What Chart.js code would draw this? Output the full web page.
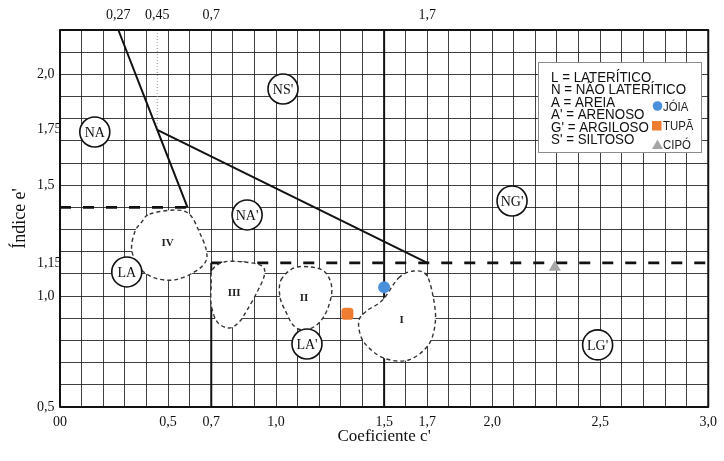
<!DOCTYPE html>
<html>
<head>
<meta charset="utf-8">
<script src="https://cdn.jsdelivr.net/npm/chart.js@4.4.1/dist/chart.umd.min.js"></script>
<style>
html,body{margin:0;padding:0;background:#fff;}
#wrap{width:724px;height:461px;position:relative;}
</style>
</head>
<body>
<div id="wrap"><canvas id="c" width="724" height="461"></canvas></div>
<script>
// ---------- axis ticks ----------
const xTickValues = [0, 0.5, 0.7, 1.0, 1.5, 1.7, 2.0, 2.5, 3.0];
const xTickLabels = ['00', '0,5', '0,7', '1,0', '1,5', '1,7', '2,0', '2,5', '3,0'];
const topTickValues = [0.27, 0.45, 0.7, 1.7];
const topTickLabels = ['0,27', '0,45', '0,7', '1,7'];
const yTickValues = [0.5, 1.0, 1.15, 1.5, 1.75, 2.0];
const yTickLabels = ['0,5', '1,0', '1,15', '1,5', '1,75', '2,0'];
const xRange = [0, 3.0];
const yRange = [0.5, 2.2];
const gridStep = 0.1;

// ---------- classification boundaries ----------
const lineSteep = [[0.27, 2.2], [0.45, 1.75], [0.59, 1.40]];
const lineSlope = [[0.45, 1.75], [1.7, 1.15]];
const lineV07 = [[0.7, 1.15], [0.7, 0.5]];
const lineV15 = [[1.5, 2.2], [1.5, 0.5]];
const dashLeft = [[0, 1.40], [0.59, 1.40]];
const dashRight = [[0.7, 1.15], [3.0, 1.15]];
const dotV045 = [[0.45, 2.2], [0.45, 1.75]];

// ---------- zones (dashed outlines) ----------
const zoneIV = [[0.415,1.370],[0.530,1.388],[0.599,1.370],[0.645,1.289],[0.677,1.208],[0.673,1.154],[0.622,1.109],[0.530,1.073],[0.438,1.082],[0.369,1.127],[0.332,1.208],[0.346,1.289],[0.378,1.334]];
const zoneIII = [[0.705,1.118],[0.760,1.154],[0.853,1.154],[0.935,1.136],[0.945,1.091],[0.912,1.018],[0.866,0.937],[0.829,0.883],[0.783,0.856],[0.728,0.883],[0.700,0.960],[0.700,1.050]];
const zoneII = [[1.023,1.073],[1.083,1.127],[1.161,1.131],[1.226,1.109],[1.258,1.037],[1.240,0.946],[1.198,0.879],[1.138,0.847],[1.083,0.865],[1.046,0.928],[1.018,0.996]];
const zoneI = [[1.567,1.082],[1.636,1.113],[1.696,1.095],[1.728,0.991],[1.737,0.883],[1.705,0.780],[1.613,0.712],[1.498,0.721],[1.406,0.793],[1.382,0.883],[1.419,0.933],[1.493,0.982]];
const zoneNames = ['IV', 'III', 'II', 'I'];
const zoneLabelPos = [[0.498,1.239],[0.806,1.014],[1.129,0.991],[1.581,0.892]];

// ---------- circled group labels ----------
const groupNames = ['NA', "NS'", "NA'", 'LA', "LA'", "NG'", "LG'"];
const groupPos = [[0.161,1.740],[1.032,1.934],[0.866,1.366],[0.309,1.109],[1.143,0.784],[2.092,1.429],[2.488,0.780]];

// ---------- samples ----------
const joiaPoint = [{x: 1.50, y: 1.04}];
const tupaPoint = [{x: 1.33, y: 0.92}];
const cipoPoint = [{x: 2.29, y: 1.13}];

const legendLines = ['L = LATERÍTICO', 'N = NÃO LATERÍTICO', 'A = AREIA', "A' = ARENOSO", "G' = ARGILOSO", "S' = SILTOSO"];
const sampleNames = ['JÓIA', 'TUPÃ', 'CIPÓ'];

const COL_JOIA = '#4A8FDB', COL_TUPA = '#EE7D31', COL_CIPO = '#A6A6A6';
const SERIF = "'Liberation Serif', 'Times New Roman', serif";
const SANS = "'Liberation Sans', Arial, sans-serif";

function gridVals(a, b) {
  const out = [];
  for (let i = Math.round(a / gridStep); i <= Math.round(b / gridStep); i++) out.push(+(i * gridStep).toFixed(2));
  return out;
}
function mergeTicks(grid, extra) {
  const s = new Set(grid.map(v => v.toFixed(2)));
  extra.forEach(v => s.add(v.toFixed(2)));
  return Array.from(s).map(Number).sort((a, b) => a - b);
}
function isGridVal(v) { return Math.abs(v / gridStep - Math.round(v / gridStep)) < 1e-6; }
function labelFor(vals, labels, v) {
  const i = vals.findIndex(t => Math.abs(t - v) < 1e-6);
  return i >= 0 ? labels[i] : '';
}
const gridColor = (ctx) => (ctx.tick && isGridVal(ctx.tick.value)) ? 'rgba(30,30,30,0.85)' : 'rgba(0,0,0,0)';

function polyline(ctx, xs, ys, pts) {
  ctx.beginPath();
  pts.forEach((p, i) => {
    const px = xs.getPixelForValue(p[0]), py = ys.getPixelForValue(p[1]);
    if (i === 0) ctx.moveTo(px, py); else ctx.lineTo(px, py);
  });
  ctx.stroke();
}
function closedSpline(ctx, pts) {
  const n = pts.length, t = 1 / 6;
  ctx.beginPath();
  ctx.moveTo(pts[0][0], pts[0][1]);
  for (let i = 0; i < n; i++) {
    const p0 = pts[(i - 1 + n) % n], p1 = pts[i], p2 = pts[(i + 1) % n], p3 = pts[(i + 2) % n];
    ctx.bezierCurveTo(p1[0] + (p2[0] - p0[0]) * t, p1[1] + (p2[1] - p0[1]) * t,
                      p2[0] - (p3[0] - p1[0]) * t, p2[1] - (p3[1] - p1[1]) * t, p2[0], p2[1]);
  }
  ctx.closePath();
}

const mctPlugin = {
  id: 'mct',
  beforeDatasetsDraw(chart) {
    const {ctx, chartArea: a} = chart;
    const xs = chart.scales.x, ys = chart.scales.y;
    ctx.save();
    // dotted guide
    ctx.strokeStyle = '#9a9a9a'; ctx.lineWidth = 1; ctx.setLineDash([1, 2]);
    polyline(ctx, xs, ys, dotV045);
    // solid boundaries
    ctx.setLineDash([]); ctx.strokeStyle = '#111'; ctx.lineWidth = 2; ctx.lineJoin = 'round';
    [lineSteep, lineSlope, lineV07, lineV15].forEach(l => polyline(ctx, xs, ys, l));
    // dashed boundaries
    ctx.setLineDash([11, 12]); ctx.lineWidth = 2.6;
    [dashLeft, dashRight].forEach(l => polyline(ctx, xs, ys, l));
    // zones
    [zoneIV, zoneIII, zoneII, zoneI].forEach(z => {
      const pts = z.map(p => [xs.getPixelForValue(p[0]), ys.getPixelForValue(p[1])]);
      closedSpline(ctx, pts);
      ctx.setLineDash([]); ctx.fillStyle = '#fff'; ctx.fill();
      ctx.setLineDash([4, 3]); ctx.lineWidth = 1.4; ctx.strokeStyle = '#333'; ctx.stroke();
    });
    ctx.setLineDash([]);
    // frame
    ctx.strokeStyle = '#111'; ctx.lineWidth = 2;
    ctx.strokeRect(a.left, a.top, a.right - a.left, a.bottom - a.top);
    // zone numerals
    ctx.fillStyle = '#222'; ctx.font = 'bold 11px ' + SERIF; ctx.textAlign = 'center'; ctx.textBaseline = 'middle';
    zoneNames.forEach((n, i) => ctx.fillText(n, xs.getPixelForValue(zoneLabelPos[i][0]), ys.getPixelForValue(zoneLabelPos[i][1])));
    // circled group labels
    groupNames.forEach((n, i) => {
      const px = xs.getPixelForValue(groupPos[i][0]), py = ys.getPixelForValue(groupPos[i][1]);
      ctx.beginPath(); ctx.arc(px, py, 15, 0, Math.PI * 2);
      ctx.fillStyle = '#fff'; ctx.fill();
      ctx.lineWidth = 1.6; ctx.strokeStyle = '#111'; ctx.stroke();
      ctx.fillStyle = '#111'; ctx.font = '14px ' + SERIF;
      ctx.fillText(n, px, py + 1);
    });
    ctx.restore();
  },
  afterDatasetsDraw(chart) {
    const {ctx} = chart;
    ctx.save();
    // legend box
    ctx.fillStyle = '#fff'; ctx.fillRect(538, 62, 163, 90);
    ctx.strokeStyle = '#8c8c8c'; ctx.lineWidth = 1; ctx.strokeRect(538.5, 62.5, 163, 90);
    ctx.fillStyle = '#111'; ctx.textBaseline = 'alphabetic'; ctx.textAlign = 'left';
    ctx.font = '15px ' + SANS;
    legendLines.forEach((t, i) => {
      ctx.save();
      ctx.translate(551, 82 + i * 12.4);
      ctx.scale(0.89, 1);
      ctx.fillText(t, 0, 0);
      ctx.restore();
    });
    // sample markers
    ctx.fillStyle = COL_JOIA; ctx.beginPath(); ctx.arc(657.5, 106, 4.8, 0, Math.PI * 2); ctx.fill();
    ctx.fillStyle = COL_TUPA; ctx.fillRect(652, 121, 9.5, 9.5);
    ctx.fillStyle = COL_CIPO; ctx.beginPath(); ctx.moveTo(657.5, 139.5); ctx.lineTo(663, 149); ctx.lineTo(652, 149); ctx.closePath(); ctx.fill();
    ctx.fillStyle = '#222'; ctx.font = '12px ' + SANS;
    sampleNames.forEach((t, i) => {
      ctx.save(); ctx.translate(663, 110.5 + i * 19); ctx.scale(0.95, 1); ctx.fillText(t, 0, 0); ctx.restore();
    });
    ctx.restore();
  }
};

new Chart(document.getElementById('c'), {
  type: 'scatter',
  data: {
    datasets: [
      {label: sampleNames[0], data: joiaPoint, pointStyle: 'circle', pointRadius: 6, backgroundColor: COL_JOIA, borderColor: COL_JOIA, borderWidth: 0},
      {label: sampleNames[1], data: tupaPoint, pointStyle: 'rectRounded', pointRadius: 7, backgroundColor: COL_TUPA, borderColor: COL_TUPA, borderWidth: 0},
      {label: sampleNames[2], data: cipoPoint, pointStyle: 'triangle', pointRadius: 7, backgroundColor: COL_CIPO, borderColor: COL_CIPO, borderWidth: 0}
    ]
  },
  options: {
    responsive: false,
    animation: false,
    events: [],
    layout: {padding: {left: 37, right: 13, top: 0, bottom: 0}},
    plugins: {legend: {display: false}, tooltip: {enabled: false}},
    scales: {
      x: {
        type: 'linear', position: 'bottom', min: xRange[0], max: xRange[1],
        afterBuildTicks: s => { s.ticks = gridVals(xRange[0], xRange[1]).map(v => ({value: v})); },
        afterFit: s => { s.height = 54; },
        border: {display: false},
        grid: {color: gridColor, lineWidth: 1, drawTicks: false},
        ticks: {autoSkip: false, maxRotation: 0, padding: 7, color: '#111', font: {family: SERIF, size: 14},
                callback: v => labelFor(xTickValues, xTickLabels, v)},
        title: {display: true, text: "Coeficiente c'", color: '#111', font: {family: SERIF, size: 17}, padding: {top: 0, bottom: 14}}
      },
      x2: {
        type: 'linear', position: 'top', min: xRange[0], max: xRange[1],
        afterBuildTicks: s => { s.ticks = topTickValues.map(v => ({value: v})); },
        afterFit: s => { s.height = 30; },
        border: {display: false},
        grid: {display: false, drawTicks: false},
        ticks: {autoSkip: false, maxRotation: 0, padding: 6, color: '#111', font: {family: SERIF, size: 14},
                callback: v => labelFor(topTickValues, topTickLabels, v)}
      },
      y: {
        type: 'linear', position: 'left', min: yRange[0], max: yRange[1],
        afterBuildTicks: s => { s.ticks = mergeTicks(gridVals(yRange[0], yRange[1]), yTickValues).map(v => ({value: v})); },
        afterFit: s => { s.width = 23; },
        border: {display: false},
        grid: {color: gridColor, lineWidth: 1, drawTicks: false},
        ticks: {autoSkip: false, crossAlign: 'far', padding: 4, color: '#111', font: {family: SERIF, size: 14},
                callback: v => labelFor(yTickValues, yTickLabels, v)},
        title: {display: true, text: "Índice e'", color: '#111', font: {family: SERIF, size: 18}, padding: {top: -28, bottom: 0}}
      }
    }
  },
  plugins: [mctPlugin]
});
</script>
</body>
</html>
